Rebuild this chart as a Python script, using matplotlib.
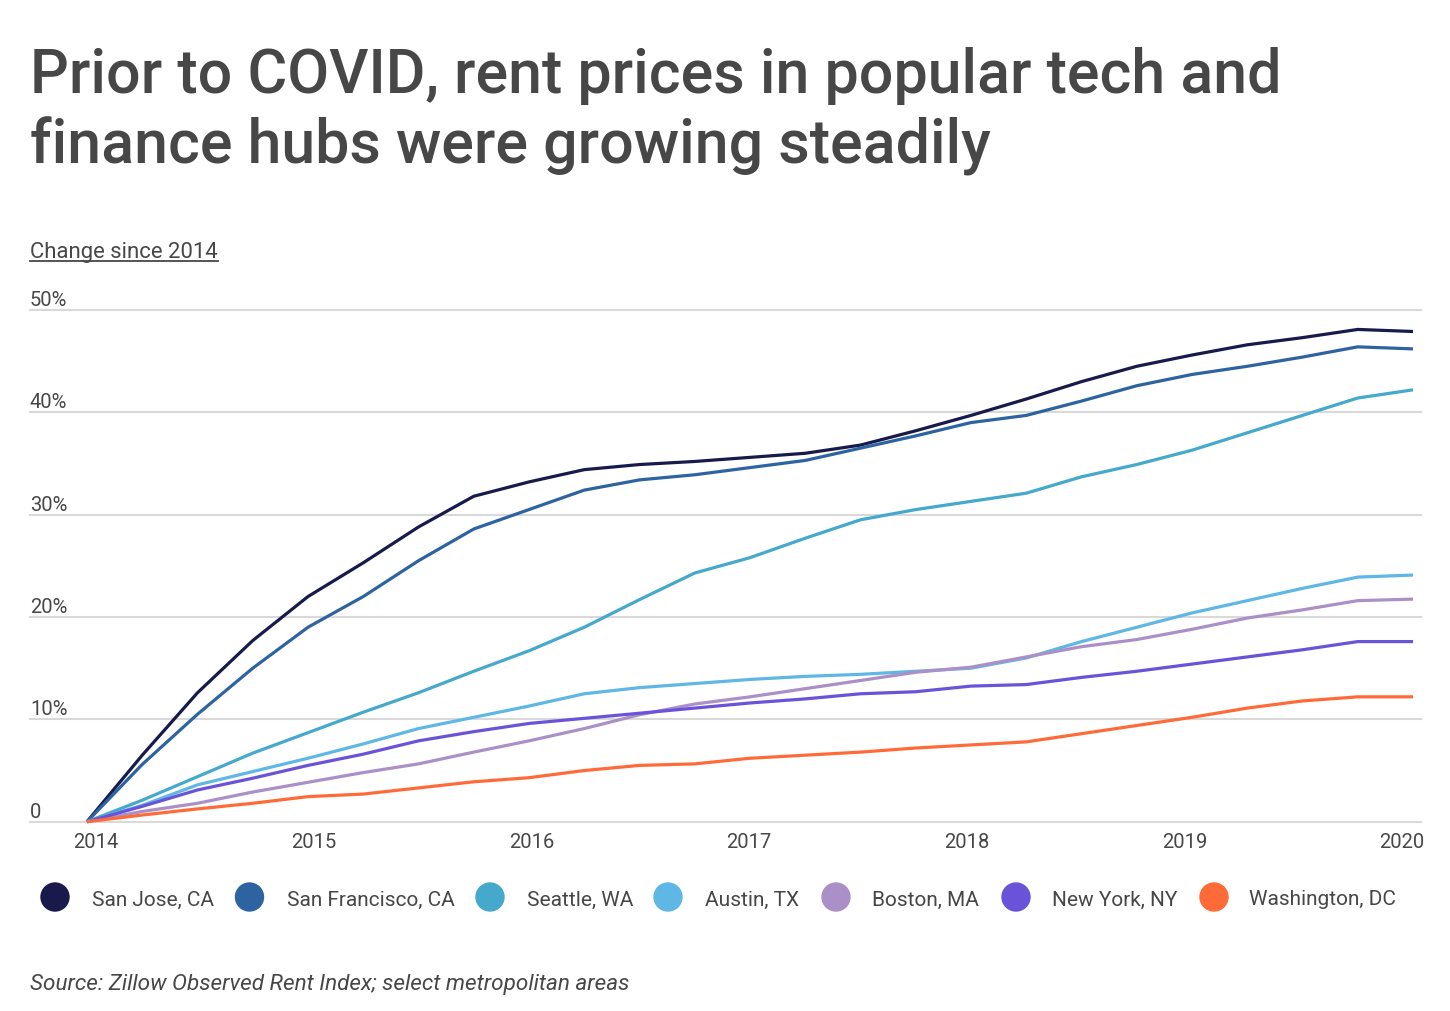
import numpy as np
import matplotlib
matplotlib.use("Agg")
import matplotlib.pyplot as plt
from matplotlib.transforms import offset_copy

plt.rcParams['font.family'] = ['Roboto', 'DejaVu Sans']

# Data: change in rent since Jan 2014 (%), read quarterly
dates = 2014 + np.arange(25) / 4

san_jose = [0, 6.5, 12.6, 17.7, 22.0, 25.3, 28.8, 31.8, 33.2, 34.4, 34.9, 35.2, 35.6,
            36.0, 36.8, 38.2, 39.7, 41.3, 43.0, 44.5, 45.6, 46.6, 47.3, 48.1, 47.9]
san_francisco = [0, 5.6, 10.5, 15.0, 19.0, 22.0, 25.5, 28.6, 30.5, 32.4, 33.4, 33.9, 34.6,
                 35.3, 36.5, 37.7, 39.0, 39.7, 41.1, 42.6, 43.7, 44.5, 45.4, 46.4, 46.2]
seattle = [0, 2.1, 4.4, 6.7, 8.7, 10.7, 12.6, 14.7, 16.7, 19.0, 21.7, 24.3, 25.8,
           27.7, 29.5, 30.5, 31.3, 32.1, 33.7, 34.9, 36.3, 38.0, 39.7, 41.4, 42.2]
austin = [0, 1.6, 3.6, 4.9, 6.2, 7.6, 9.1, 10.2, 11.3, 12.5, 13.1, 13.5, 13.9,
          14.2, 14.4, 14.7, 15.0, 16.0, 17.6, 19.0, 20.4, 21.6, 22.8, 23.9, 24.1]
boston = [0, 1.0, 1.8, 2.9, 3.85, 4.8, 5.65, 6.8, 7.9, 9.1, 10.45, 11.5, 12.2,
          13.0, 13.8, 14.6, 15.1, 16.1, 17.1, 17.8, 18.8, 19.9, 20.7, 21.6, 21.75]
new_york = [0, 1.5, 3.1, 4.25, 5.5, 6.6, 7.9, 8.8, 9.6, 10.1, 10.6, 11.1, 11.6,
            12.0, 12.5, 12.7, 13.25, 13.4, 14.1, 14.7, 15.4, 16.1, 16.8, 17.6, 17.6]
washington = [0, 0.65, 1.25, 1.8, 2.45, 2.7, 3.3, 3.9, 4.3, 5.0, 5.5, 5.65, 6.2,
              6.5, 6.8, 7.2, 7.5, 7.8, 8.6, 9.4, 10.2, 11.1, 11.8, 12.2, 12.2]

names = ['San Jose, CA', 'San Francisco, CA', 'Seattle, WA', 'Austin, TX',
         'Boston, MA', 'New York, NY', 'Washington, DC']
series = [san_jose, san_francisco, seattle, austin, boston, new_york, washington]
colors = ['#181a4b', '#2e63a2', '#45a9cb', '#5fb7e6', '#ab90c7', '#6b53d9', '#ff6b38']

grid_vals = [0, 10, 20, 30, 40, 50]
grid_labels = ['0', '10%', '20%', '30%', '40%', '50%']
years = [2014, 2015, 2016, 2017, 2018, 2019, 2020]

W, H = 1450, 1012
TEXT = '#474747'

def fx(px):
    return px / W

def fy(py):
    return 1 - py / H

fig = plt.figure(figsize=(W / 100, H / 100), dpi=100)
fig.patch.set_facecolor('white')

ax = fig.add_axes([fx(30), fy(822.7), fx(1421) - fx(30), fy(311) - fy(822.7)])
ax.set_xlim(2014 - 57 / 221, 2020 + 8 / 221)
ax.set_ylim(0, 50)
ax.axis('off')

for v, lab in zip(grid_vals, grid_labels):
    ax.axhline(v, color='#d9d9d9', lw=1.5, zorder=1, clip_on=False)
    tr = offset_copy(ax.get_yaxis_transform(), fig=fig, x=0, y=3.5, units='points')
    ax.text(0, v, lab, transform=tr, ha='left', va='baseline',
            fontsize=14.5, color=TEXT)

for vals, c in zip(series, colors):
    ax.plot(dates, vals, color=c, lw=2.3, solid_joinstyle='round',
            solid_capstyle='butt', zorder=3, clip_on=False)

# year labels
for k, yr in enumerate(years):
    fig.text(fx(96 + 217.7 * k), fy(848.3), str(yr), ha='center', va='baseline',
             fontsize=14.5, color=TEXT)

# title
fig.text(fx(30), fy(92.7), 'Prior to COVID, rent prices in popular tech and',
         fontsize=43.8, fontweight='medium', color=TEXT, va='baseline')
fig.text(fx(30), fy(163.3), 'finance hubs were growing steadily',
         fontsize=43.8, fontweight='medium', color=TEXT, va='baseline')

# subtitle with underline
sub = fig.text(fx(30), fy(258.3), 'Change since 2014', fontsize=15.9,
               color=TEXT, va='baseline')
fig.canvas.draw()
bb = sub.get_window_extent()
fig.add_artist(plt.Line2D([fx(30), bb.x1 / W], [fy(261.5), fy(261.5)],
                          color=TEXT, lw=1.3, transform=fig.transFigure))

# legend
circle_x = [55, 249.5, 490, 668, 836, 1016, 1214]
label_x = [92, 287, 527, 705, 872, 1052, 1249]
for name, c, cx, lx in zip(names, colors, circle_x, label_x):
    fig.add_artist(matplotlib.patches.Ellipse((fx(cx), fy(898)), fx(28), 28 / H,
                                              color=c, transform=fig.transFigure))
    fig.text(fx(lx), fy(898), name, fontsize=15, color=TEXT, va='center_baseline')

fig.text(fx(30), fy(990), 'Source: Zillow Observed Rent Index; select metropolitan areas',
         fontsize=16.2, style='italic', color=TEXT, va='baseline')

fig.savefig('out.png', dpi=100)
